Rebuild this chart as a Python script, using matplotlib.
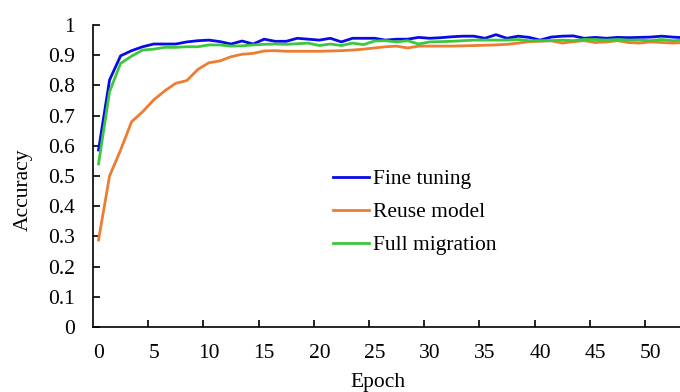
import numpy as np
import matplotlib
matplotlib.use('Agg')
import matplotlib.pyplot as plt

#%% data
epochs = np.arange(54)

fine_tuning = [0.586, 0.818, 0.898, 0.915, 0.928, 0.937, 0.937, 0.937, 0.944, 0.948,
               0.950, 0.945, 0.937, 0.947, 0.937, 0.953, 0.946, 0.946, 0.956, 0.953,
               0.950, 0.956, 0.944, 0.956, 0.956, 0.956, 0.950, 0.953, 0.953, 0.959,
               0.956, 0.958, 0.961, 0.963, 0.963, 0.956, 0.968, 0.956, 0.963, 0.959,
               0.950, 0.960, 0.963, 0.964, 0.956, 0.959, 0.956, 0.959, 0.958, 0.959,
               0.960, 0.963, 0.960, 0.958]

reuse_model = [0.288, 0.500, 0.586, 0.680, 0.713, 0.752, 0.782, 0.807, 0.816, 0.853,
               0.875, 0.881, 0.895, 0.903, 0.906, 0.914, 0.915, 0.913, 0.913, 0.913,
               0.913, 0.914, 0.915, 0.917, 0.920, 0.924, 0.928, 0.930, 0.924, 0.930,
               0.930, 0.930, 0.930, 0.931, 0.932, 0.933, 0.934, 0.936, 0.940, 0.945,
               0.946, 0.948, 0.940, 0.945, 0.948, 0.942, 0.944, 0.948, 0.942, 0.940,
               0.944, 0.942, 0.940, 0.942]

full_migration = [0.540, 0.779, 0.873, 0.897, 0.917, 0.920, 0.926, 0.926, 0.928, 0.928,
                  0.934, 0.934, 0.930, 0.931, 0.934, 0.936, 0.937, 0.936, 0.938, 0.940,
                  0.932, 0.937, 0.932, 0.940, 0.935, 0.947, 0.948, 0.944, 0.948, 0.937,
                  0.944, 0.945, 0.946, 0.948, 0.950, 0.950, 0.950, 0.950, 0.952, 0.948,
                  0.948, 0.948, 0.950, 0.948, 0.952, 0.952, 0.950, 0.952, 0.950, 0.950,
                  0.948, 0.952, 0.948, 0.950]

labels = ['Fine tuning', 'Reuse model', 'Full migration']
colors = ['#0a0ae6', '#ed7d31', '#3cc83c']
x_ticklabels = [str(v) for v in range(0, 55, 5)]

#%% figure
plt.rcParams['font.family'] = ['Liberation Serif', 'DejaVu Serif']
plt.rcParams['font.size'] = 15.5

fig = plt.figure(figsize=(6.8, 3.92), dpi=100)
W, H = 680., 392.
ax = fig.add_axes([93/W, (H-327)/H, (W-93)/W, 302/H])

for y, lab, c in zip([fine_tuning, reuse_model, full_migration], labels, colors):
    ax.plot(epochs, y, color=c, lw=2.0, label=lab)

ax.set_yticks(np.arange(0, 1.01, 0.1))
ax.set_yticklabels(['%g' % round(v, 1) for v in np.arange(0, 1.01, 0.1)])

# category style axis: labels on categories, tick marks between them
ax.set_xticks(np.arange(0, 55, 5))
ax.set_xticklabels(x_ticklabels)
ax.set_xticks(np.arange(4.5, 55, 5), minor=True)
ax.tick_params(axis='x', which='major', length=0, pad=12)
ax.tick_params(axis='x', which='minor', direction='in', length=5, width=1.2)
ax.tick_params(axis='y', direction='in', length=5, width=1.2, pad=13)

# limits after the ticks, set_xticks would widen them
ax.set_ylim(0, 1)
ax.set_xlim(-0.5, (W-93)/11.04 - 0.5)

for s in ['top', 'right']:
    ax.spines[s].set_visible(False)
for s in ['left', 'bottom']:
    ax.spines[s].set_linewidth(1.2)

fig.text(23/W, 1 - 190/H, 'Accuracy', rotation=90, ha='center', va='center')
fig.text(378/W, 1 - 382/H, 'Epoch', ha='center', va='center')

ax.legend(loc='upper left', bbox_to_anchor=((333-93)/587, (327-169)/302),
          frameon=False, borderpad=0, borderaxespad=0, handlelength=1.65,
          handletextpad=0.2, labelspacing=0.6)

fig.savefig('out.png', dpi=100)
